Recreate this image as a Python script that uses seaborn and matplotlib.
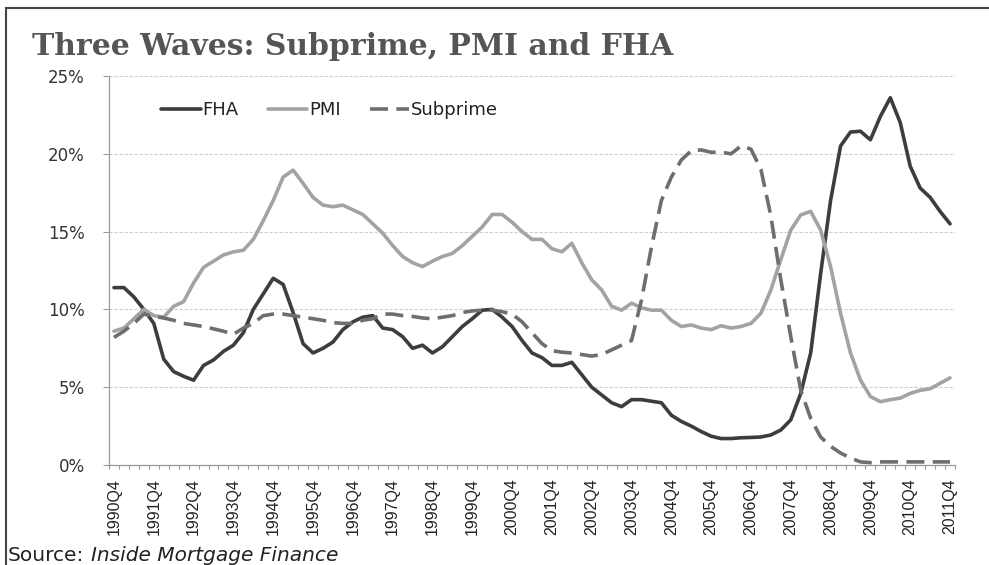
import numpy as np
import pandas as pd
import matplotlib
matplotlib.use("Agg")
import matplotlib.pyplot as plt
from matplotlib import font_manager
from matplotlib.patches import Rectangle
from matplotlib.ticker import FuncFormatter
import seaborn as sns

# quarterly share of originations (%), 1990Q4 .. 2011Q4
quarters = [f"{y}Q{q}" for y in range(1990, 2012) for q in (1, 2, 3, 4)][3:]

fha = [11.4, 11.4, 10.8, 10.0, 9.1, 6.8, 6.0, 5.7, 5.45, 6.4,
       6.75, 7.3, 7.7, 8.5, 10.0, 11.0, 12.0, 11.6, 9.8, 7.8,
       7.2, 7.5, 7.9, 8.7, 9.2, 9.5, 9.6, 8.8, 8.7, 8.25,
       7.5, 7.7, 7.2, 7.6, 8.25, 8.9, 9.4, 9.95, 10.0, 9.5,
       8.9, 8.0, 7.2, 6.9, 6.4, 6.4, 6.6, 5.8, 5.0, 4.5,
       4.0, 3.75, 4.2, 4.2, 4.1, 4.0, 3.2, 2.8, 2.5, 2.15,
       1.85, 1.7, 1.7, 1.75, 1.77, 1.8, 1.93, 2.25, 2.9, 4.6,
       7.2, 12.3, 17.0, 20.5, 21.4, 21.45, 20.9, 22.4, 23.6, 22.0,
       19.2, 17.8, 17.2, 16.3, 15.5]

pmi = [8.6, 8.8, 9.4, 10.0, 9.6, 9.5, 10.2, 10.5, 11.7, 12.7,
       13.1, 13.5, 13.7, 13.8, 14.5, 15.7, 17.0, 18.5, 18.95, 18.1,
       17.2, 16.7, 16.6, 16.7, 16.4, 16.1, 15.5, 14.9, 14.1, 13.4,
       13.0, 12.75, 13.1, 13.4, 13.6, 14.1, 14.7, 15.3, 16.1, 16.1,
       15.6, 15.0, 14.5, 14.5, 13.9, 13.7, 14.25, 13.0, 11.9, 11.25,
       10.2, 9.95, 10.4, 10.1, 9.95, 9.95, 9.3, 8.9, 9.0, 8.8,
       8.7, 8.95, 8.8, 8.9, 9.1, 9.75, 11.25, 13.2, 15.1, 16.07,
       16.3, 15.1, 12.75, 9.75, 7.2, 5.46, 4.4, 4.07, 4.2, 4.3,
       4.6, 4.8, 4.9, 5.25, 5.6]

subprime = [8.2, 8.6, 9.1, 9.7, 9.55, 9.45, 9.3, 9.1, 9.0, 8.9,
            8.75, 8.6, 8.4, 8.8, 9.1, 9.6, 9.7, 9.7, 9.6, 9.5,
            9.4, 9.3, 9.15, 9.1, 9.1, 9.3, 9.4, 9.7, 9.7, 9.6,
            9.55, 9.45, 9.4, 9.5, 9.6, 9.8, 9.9, 9.95, 9.95, 9.85,
            9.7, 9.2, 8.5, 7.8, 7.35, 7.25, 7.2, 7.1, 7.0, 7.1,
            7.4, 7.7, 8.0, 10.6, 14.0, 17.0, 18.5, 19.6, 20.2, 20.25,
            20.1, 20.1, 20.0, 20.5, 20.3, 19.0, 16.0, 11.9, 8.25, 4.8,
            3.0, 1.8, 1.2, 0.77, 0.45, 0.2, 0.15, 0.2, 0.2, 0.2,
            0.2, 0.2, 0.2, 0.2, 0.2]

tick_labels = ["1990Q4", "1991Q4", "1992Q4", "1993Q4", "1994Q4", "1995Q4",
               "1996Q4", "1997Q4", "1998Q4", "1999Q4", "2000Q4", "2001Q4",
               "2002Q4", "2003Q4", "2004Q4", "2005Q4", "2006Q4", "2007Q4",
               "2008Q4", "2009Q4", "2010Q4", "2011Q4"]
series_names = ["FHA", "PMI", "Subprime"]

df = pd.DataFrame({"quarter": quarters, "FHA": fha, "PMI": pmi, "Subprime": subprime})
df["pos"] = np.arange(len(df))
long_df = df.melt(id_vars=["quarter", "pos"], value_vars=series_names,
                  var_name="series", value_name="share")

sns.set_theme(style="white")
plt.rcParams["font.family"] = ["DejaVu Sans"]

# narrow face for the rotated quarter labels, if there is one
installed = {f.name for f in font_manager.fontManager.ttflist}
if "Liberation Sans Narrow" in installed:
    xfont, xsize = "Liberation Sans Narrow", 12.5
else:
    xfont, xsize = "Liberation Sans", 11.5

W, H = 989, 565
fig = plt.figure(figsize=(W / 100, H / 100), dpi=100)
ax = fig.add_axes([109 / W, 1 - 465 / H, (955 - 109) / W, (465 - 76) / H])

sns.lineplot(data=long_df, x="pos", y="share", hue="series", style="series",
             hue_order=series_names, style_order=series_names,
             palette={"FHA": "#3d3d3d", "PMI": "#a3a3a3", "Subprime": "#6e6e6e"},
             dashes={"FHA": "", "PMI": "", "Subprime": (5, 2.3)},
             linewidth=2.6, errorbar=None, sort=False, ax=ax)

ax.set_xlim(-0.5, len(quarters) - 0.5)
ax.set_ylim(0, 25)
ax.set_xlabel("")
ax.set_ylabel("")

# y axis
ax.set_yticks([0, 5, 10, 15, 20, 25])
ax.yaxis.set_major_formatter(FuncFormatter(lambda v, p: f"{v:.0f}%"))
ax.tick_params(axis="y", length=4.3, width=0.8, color="#9a9a9a", pad=13,
               labelsize=12, labelcolor="#333333", left=True)
ax.yaxis.grid(True, color="#cfcfcf", lw=0.8, ls=(0, (3, 1.5)))
ax.set_axisbelow(True)

# x axis
ax.set_xticks(np.arange(0, len(quarters), 4))
ax.set_xticklabels(tick_labels, rotation=90, fontsize=xsize, color="#222222",
                   family=[xfont, "DejaVu Sans"])
ax.set_xticks(np.arange(-0.5, len(quarters), 1), minor=True)
ax.tick_params(axis="x", which="major", length=0, pad=9.5)
ax.tick_params(axis="x", which="minor", length=3, width=0.8, color="#9a9a9a",
               direction="out", bottom=True)

for side in ["top", "right"]:
    ax.spines[side].set_visible(False)
for side in ["left", "bottom"]:
    ax.spines[side].set_color("#9a9a9a")
    ax.spines[side].set_linewidth(0.9)

# legend
handles, labels = ax.get_legend_handles_labels()
ax.legend(handles, labels, loc="center left", bbox_to_anchor=(152 / W, 1 - 110 / H),
          bbox_transform=fig.transFigure, ncol=3, frameon=False, fontsize=13,
          handlelength=2.2, handletextpad=0.1, columnspacing=1.6, borderpad=0,
          labelcolor="#222222")

# title and source
fig.text(32 / W, 1 - 55 / H, "Three Waves: Subprime, PMI and FHA", fontsize=21.5,
         fontweight="bold", family="DejaVu Serif", color="#555555", va="baseline")
src = fig.text(8 / W, 1 - 561 / H, "Source:", fontsize=14.5, color="#222222", va="baseline")
ax.annotate("Inside Mortgage Finance", xy=(1, 0), xycoords=src, xytext=(5, 0),
            textcoords="offset points", va="bottom", ha="left", fontsize=14.5,
            style="italic", color="#222222", annotation_clip=False)

# scanned frame around the chart
fig.add_artist(Rectangle((6 / W, -0.5), 2, 1.5 - 8 / H, transform=fig.transFigure,
                         fill=False, ec="#444444", lw=1.5))

fig.savefig("out.png", dpi=100)
